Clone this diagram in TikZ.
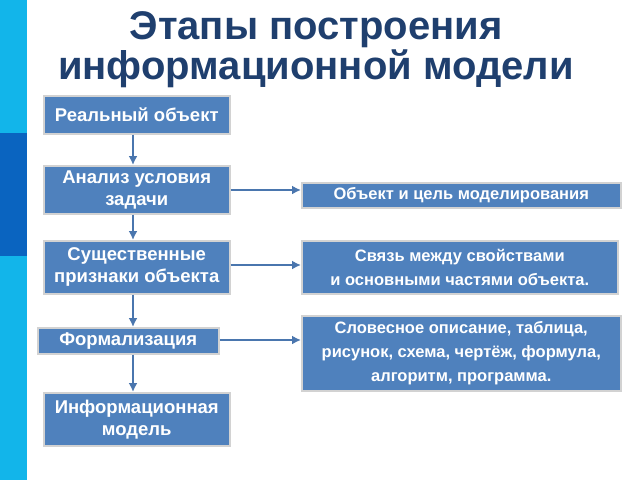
\documentclass[tikz,border=0pt]{standalone}
\usepackage{fontspec}
\setmainfont{Liberation Sans}
\usetikzlibrary{arrows.meta}
\begin{document}
\begin{tikzpicture}[x=1pt,y=-1pt,
  box/.style={draw=gray!35,line width=1.5pt,fill=boxblue,text=white,font=\bfseries\fontsize{18.5}{22}\selectfont,align=center,inner sep=0pt,anchor=north west},
  rbox/.style={box,font=\bfseries\fontsize{16.5}{24}\selectfont},
  arr/.style={draw=arrblue,line width=2pt,-{Latex[length=9pt,width=9pt]}}]
\definecolor{boxblue}{HTML}{4F81BD}
\definecolor{arrblue}{HTML}{4A76AE}
\definecolor{cyanbar}{HTML}{12B5EA}
\definecolor{darkbar}{HTML}{0A64C0}
\definecolor{titlec}{HTML}{1F3F6E}
\useasboundingbox (0,0) rectangle (640,480);
\fill[white] (0,0) rectangle (640,480);
\fill[cyanbar] (0,0) rectangle (27,480);
\fill[darkbar] (0,133) rectangle (27,256);
\node[font=\bfseries\fontsize{40}{40}\selectfont,text=titlec,align=center] (title) at (316,50) {Этапы построения\\информационной модели};
\node[box,minimum width=186pt,minimum height=38pt] (b1) at (43,95) {Реальный объект};
\node[box,minimum width=186pt,minimum height=48pt] (b2) at (43,165) {Анализ условия\\задачи};
\node[box,minimum width=186pt,minimum height=53pt] (b3) at (43,240) {Существенные\\признаки объекта};
\node[box,minimum width=181pt,minimum height=26pt] (b4) at (37,327) {Формализация};
\node[box,minimum width=186pt,minimum height=53pt] (b5) at (43,392) {Информационная\\модель};
\node[rbox,minimum width=319pt,minimum height=25pt] (r1) at (301,182) {Объект и цель моделирования};
\node[rbox,minimum width=316pt,minimum height=53pt] (r2) at (301,240) {Связь между свойствами\\и основными частями объекта.};
\node[rbox,minimum width=319pt,minimum height=75pt] (r3) at (301,315) {Словесное описание, таблица,\\рисунок, схема, чертёж, формула,\\алгоритм, программа.};
\draw[arr] (b1.south -| 133,0) -- (b2.north -| 133,0);
\draw[arr] (b2.south -| 133,0) -- (b3.north -| 133,0);
\draw[arr] (b3.south -| 133,0) -- (b4.north -| 133,0);
\draw[arr] (b4.south -| 133,0) -- (b5.north -| 133,0);
\draw[arr] (b2.east |- 0,190) -- (r1.west |- 0,190);
\draw[arr] (b3.east |- 0,265) -- (r2.west |- 0,265);
\draw[arr] (b4.east |- 0,340) -- (r3.west |- 0,340);
\end{tikzpicture}
\end{document}
